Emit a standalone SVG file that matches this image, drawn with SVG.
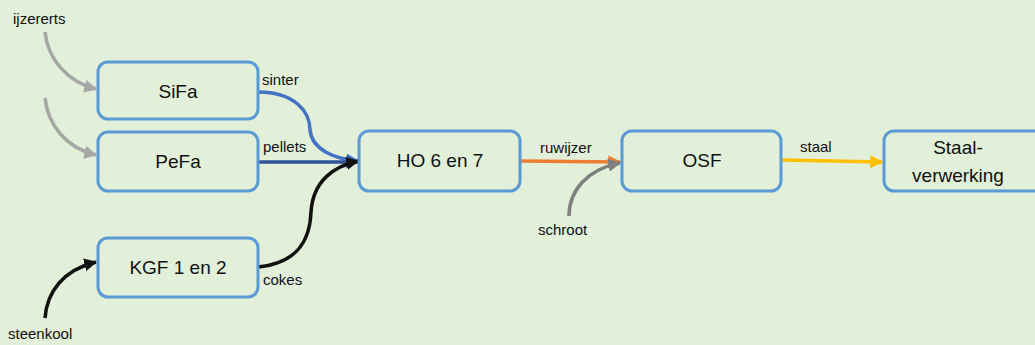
<svg xmlns="http://www.w3.org/2000/svg" width="1035" height="345" viewBox="0 0 1035 345">
<defs>
<style>
.node rect{fill:#E2EFD9;stroke:#5B9BD5;stroke-width:3}
.node text{font-family:"Liberation Sans",Arial,sans-serif;font-size:19px;fill:#111;text-anchor:middle}
.lbl{font-family:"Liberation Sans",Arial,sans-serif;font-size:15px;fill:#111}
.c{fill:none;stroke-width:3.5}
</style>
<marker id="mGray" viewBox="0 0 10 10" refX="9" refY="5" markerWidth="13" markerHeight="13" markerUnits="userSpaceOnUse" orient="auto"><path d="M0,0 L10,5 L0,10 z" fill="#A6A6A6"/></marker>
<marker id="mDGray" viewBox="0 0 10 10" refX="9" refY="5" markerWidth="13" markerHeight="13" markerUnits="userSpaceOnUse" orient="auto"><path d="M0,0 L10,5 L0,10 z" fill="#7F7F7F"/></marker>
<marker id="mBlue" viewBox="0 0 10 10" refX="9" refY="5" markerWidth="13" markerHeight="13" markerUnits="userSpaceOnUse" orient="auto"><path d="M0,0 L10,5 L0,10 z" fill="#4472C4"/></marker>
<marker id="mDBlue" viewBox="0 0 10 10" refX="9" refY="5" markerWidth="13" markerHeight="13" markerUnits="userSpaceOnUse" orient="auto"><path d="M0,0 L10,5 L0,10 z" fill="#2F5597"/></marker>
<marker id="mBlack" viewBox="0 0 10 10" refX="9" refY="5" markerWidth="13" markerHeight="13" markerUnits="userSpaceOnUse" orient="auto"><path d="M0,0 L10,5 L0,10 z" fill="#111"/></marker>
<marker id="mOrange" viewBox="0 0 10 10" refX="9" refY="5" markerWidth="13" markerHeight="13" markerUnits="userSpaceOnUse" orient="auto"><path d="M0,0 L10,5 L0,10 z" fill="#ED7D31"/></marker>
<marker id="mGold" viewBox="0 0 10 10" refX="9" refY="5" markerWidth="13" markerHeight="13" markerUnits="userSpaceOnUse" orient="auto"><path d="M0,0 L10,5 L0,10 z" fill="#FFC000"/></marker>
</defs>
<rect x="0" y="0" width="1035" height="345" fill="#E2EFD9"/>

<g id="connectors">
<path class="c" d="M45,32 C48,60 68,82 96,89" stroke="#A6A6A6" marker-end="url(#mGray)"/>
<path class="c" d="M45,98 C48,125 66,148 96,155" stroke="#A6A6A6" marker-end="url(#mGray)"/>
<path class="c" d="M258,92 C295,92 310,112 310,130 C312,150 335,159 358,161" stroke="#4472C4" marker-end="url(#mBlue)"/>
<path class="c" d="M258,162 L358,162" stroke="#2F5597" marker-end="url(#mDBlue)"/>
<path class="c" d="M258,267 C298,263 310,240 311,212 C313,180 335,166 358,161" stroke="#111" marker-end="url(#mBlack)"/>
<path class="c" d="M45,318 C47,292 63,270 96,262" stroke="#111" marker-end="url(#mBlack)"/>
<path class="c" d="M520,161 L620,162" stroke="#ED7D31" marker-end="url(#mOrange)"/>
<path class="c" d="M569,216 C569,190 588,169 620,163" stroke="#7F7F7F" marker-end="url(#mDGray)"/>
<path class="c" d="M782,160 L882,162" stroke="#FFC000" marker-end="url(#mGold)"/>
</g>

<g id="SiFa" class="node"><rect x="98" y="62" width="160" height="57" rx="10"/><text x="178" y="98">SiFa</text></g>
<g id="PeFa" class="node"><rect x="98" y="132" width="160" height="59" rx="10"/><text x="178" y="168">PeFa</text></g>
<g id="KGF" class="node"><rect x="98" y="238" width="160" height="59" rx="10"/><text x="178" y="274">KGF 1 en 2</text></g>
<g id="HO" class="node"><rect x="359" y="131" width="161" height="60" rx="10"/><text x="440" y="167">HO 6 en 7</text></g>
<g id="OSF" class="node"><rect x="622" y="131" width="159" height="60" rx="10"/><text x="702" y="167">OSF</text></g>
<g id="Staalverwerking" class="node"><rect x="884" y="131" width="160" height="60" rx="10"/><text x="958" y="154">Staal-</text><text x="958" y="182">verwerking</text></g>

<g id="labels">
<text class="lbl" x="13" y="24">ijzererts</text>
<text class="lbl" x="262" y="85">sinter</text>
<text class="lbl" x="263" y="152">pellets</text>
<text class="lbl" x="263" y="285">cokes</text>
<text class="lbl" x="8" y="339">steenkool</text>
<text class="lbl" x="540" y="153">ruwijzer</text>
<text class="lbl" x="538" y="235">schroot</text>
<text class="lbl" x="800" y="152">staal</text>
</g>
</svg>
